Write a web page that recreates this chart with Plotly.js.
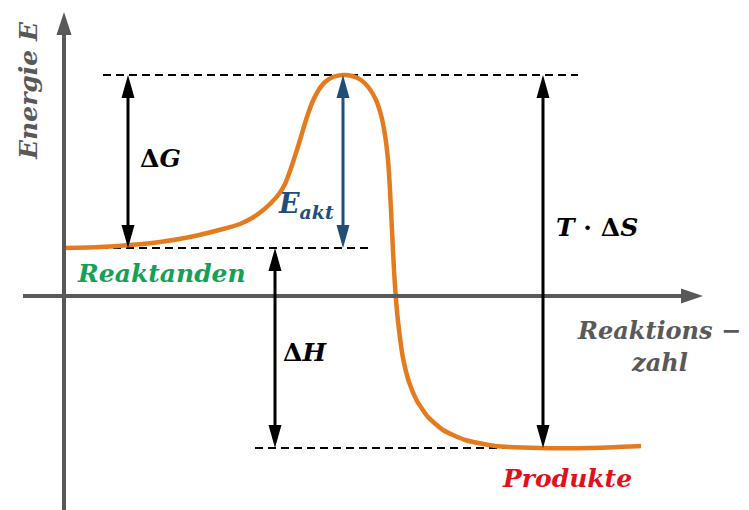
<!DOCTYPE html>
<html>
<head>
<meta charset="utf-8">
<script src="https://cdn.plot.ly/plotly-3.0.1.min.js"></script>
<style>html,body{margin:0;padding:0;background:#fff}#chart{width:749px;height:510px}</style>
</head>
<body>
<div id="chart"></div>
<script>
// ---- data (energy diagram, arbitrary units; origin = axes crossing) ----
const curveX = [0, 36, 66, 96, 126, 159, 176, 188, 198, 207, 215, 221, 226, 231, 236, 242, 248, 254, 261, 269, 279, 288, 297, 305, 312, 317, 321, 324, 326, 328, 330, 332, 335, 339, 345, 353, 364, 379, 401, 431, 476, 526, 577];
const curveY = [48, 49, 51, 54, 59, 67, 72, 78, 85, 93, 102, 112, 125, 140, 156, 176, 193, 205, 214, 219, 221, 220, 216, 208, 196, 181, 161, 136, 106, 66, 26, -4, -34, -62, -86, -105, -121, -134, -144, -150, -152, -152, -150];

const E_reactant = 48;
const E_peak = 221;
const E_product = -152;

const dashLevels = [E_peak, E_reactant, E_product];
const dashStart = [39, 36, 191];
const dashEnd = [514, 308, 481];

const arrowNames = ["ΔG", "E_akt", "ΔH", "T·ΔS"];
const arrowX = [64, 279, 211, 479];
const arrowFrom = [E_peak, E_peak, E_reactant, E_peak];
const arrowTo = [E_reactant, E_reactant, E_product, E_product];
const arrowColors = ["#000000", "#1f4e79", "#000000", "#000000"];

const xRange = [-64, 685];
const yRange = [-214, 296];
const xAxisStart = -41, xAxisEnd = 639;
const yAxisStart = -214, yAxisEnd = 284;

// ---- helpers ----
const shapes = [];
function triHead(xt, yt, dx, dy, len, half, color) {
  const bx = xt - dx * len, by = yt - dy * len;
  const px = -dy * half, py = dx * half;
  shapes.push({type: 'path', xref: 'x', yref: 'y',
    path: `M${xt},${yt} L${bx + px},${by + py} L${bx - px},${by - py} Z`,
    fillcolor: color, line: {width: 0}, layer: 'above'});
}
function seg(x0, y0, x1, y1, color, width, dash) {
  shapes.push({type: 'line', xref: 'x', yref: 'y', x0, y0, x1, y1,
    line: {color, width, dash: dash || 'solid'}, layer: 'above'});
}

// dashed levels
for (let i = 0; i < dashLevels.length; i++) {
  shapes.push({type: 'line', xref: 'x', yref: 'y', x0: dashStart[i], x1: dashEnd[i],
    y0: dashLevels[i], y1: dashLevels[i], line: {color: '#000', width: 2, dash: '8px,5px'}, layer: 'below'});
}

// axes
const axisColor = '#595959';
seg(xAxisStart, 0, xAxisEnd - 18, 0, axisColor, 4);
triHead(xAxisEnd, 0, 1, 0, 22, 7.5, axisColor);
seg(0, yAxisStart, 0, yAxisEnd - 18, axisColor, 4);
triHead(0, yAxisEnd, 0, 1, 23, 7.5, axisColor);

// double arrows
for (let i = 0; i < arrowX.length; i++) {
  const top = Math.max(arrowFrom[i], arrowTo[i]);
  const bot = Math.min(arrowFrom[i], arrowTo[i]);
  seg(arrowX[i], bot + 18, arrowX[i], top - 18, arrowColors[i], 3);
  triHead(arrowX[i], top, 0, 1, 23, 6.5, arrowColors[i]);
  triHead(arrowX[i], bot, 0, -1, 23, 6.5, arrowColors[i]);
}

const fam = '"DejaVu Serif", serif';
const up = s => `<span style="font-style:normal">${s}</span>`;
function lab(x, y, text, color, size, extra) {
  return Object.assign({x, y, xref: 'x', yref: 'y', text, showarrow: false,
    font: {family: fam, size, color, weight: 'bold', style: 'italic'}}, extra || {});
}
const annotations = [
  lab(96, 138, up('Δ') + 'G', '#000', 25),
  lab(242, 91, 'E<sub>akt</sub>', '#1f4e79', 27),
  lab(241, -56, up('Δ') + 'H', '#000', 25),
  lab(533, 69, 'T ' + up('·') + ' ' + up('Δ') + 'S', '#000', 25),
  lab(97, 23, 'Reaktanden', '#17a058', 25),
  lab(595, -34, 'Reaktions −', '#595959', 24),
  lab(595, -66, 'zahl', '#595959', 24),
  lab(503, -182, 'Produkte', '#e3101c', 25),
  lab(-36, 205, 'Energie E', '#595959', 25, {textangle: -90})
];

const traces = [{
  x: curveX, y: curveY, type: 'scatter', mode: 'lines',
  line: {color: '#e57b1f', width: 4.5, shape: 'spline', smoothing: 0.5},
  hoverinfo: 'skip'
}];

const layout = {
  width: 749, height: 510,
  margin: {l: 0, r: 0, t: 0, b: 0},
  paper_bgcolor: '#fff', plot_bgcolor: '#fff',
  showlegend: false,
  xaxis: {range: xRange, visible: false, fixedrange: true},
  yaxis: {range: yRange, visible: false, fixedrange: true},
  shapes, annotations
};
Plotly.newPlot('chart', traces, layout, {staticPlot: true, displayModeBar: false});
</script>
</body>
</html>
